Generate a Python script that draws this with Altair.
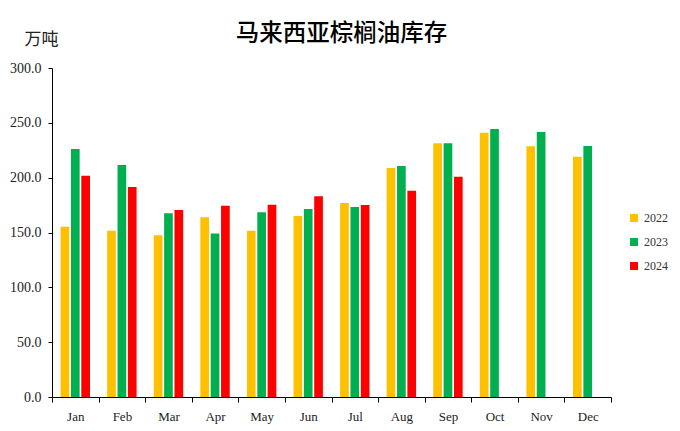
import altair as alt
import pandas as pd

months = ["Jan", "Feb", "Mar", "Apr", "May", "Jun", "Jul", "Aug", "Sep", "Oct", "Nov", "Dec"]
years = ["2022", "2023", "2024"]
v2022 = [155.3, 151.7, 147.5, 163.8, 151.7, 165.0, 177.0, 208.8, 231.3, 241.0, 228.6, 219.1]
v2023 = [226.1, 211.5, 167.5, 149.2, 168.4, 171.4, 173.2, 210.6, 231.3, 244.4, 241.6, 228.9]
v2024 = [201.8, 191.5, 170.5, 174.5, 175.4, 183.0, 175.0, 188.0, 200.9, None, None, None]
colors = ["#FFC000", "#00B050", "#FF0000"]
y_ticks = [0, 50, 100, 150, 200, 250, 300]

rows = []
for yr, vals in zip(years, [v2022, v2023, v2024]):
    for m, v in zip(months, vals):
        if v is not None:
            rows.append({"month": m, "year": yr, "value": v})
df = pd.DataFrame(rows)

serif = "Liberation Serif"
cjk = "Noto Sans CJK SC"

chart = alt.Chart(df).mark_bar().encode(
    x=alt.X("month:N", sort=months,
            scale=alt.Scale(paddingInner=0, paddingOuter=0),
            axis=alt.Axis(title=None, labelAngle=0, tickBand="extent", tickSize=5,
                          labelFont=serif, labelFontSize=13, labelColor="#222",
                          domainColor="#000", tickColor="#000", labelPadding=8,
                          grid=False)),
    xOffset=alt.XOffset("year:N", sort=years,
                        scale=alt.Scale(paddingInner=0.16, paddingOuter=0.83)),
    y=alt.Y("value:Q", scale=alt.Scale(domain=[0, 300], nice=False),
            axis=alt.Axis(values=y_ticks, format=".1f", title="万吨", titleAngle=0,
                          titleX=-11, titleY=-24, titleAlign="center",
                          titleBaseline="alphabetic", titleFont=cjk, titleFontSize=17,
                          titleFontWeight="normal", titleColor="#222",
                          grid=False, tickSize=4, labelPadding=7,
                          labelFont=serif, labelFontSize=14, labelColor="#222",
                          domainColor="#000", tickColor="#000")),
    color=alt.Color("year:N", scale=alt.Scale(domain=years, range=colors),
                    legend=alt.Legend(title=None, orient="none", legendX=576, legendY=144,
                                      symbolType="square", symbolSize=64,
                                      symbolStrokeWidth=0, labelFont=serif,
                                      labelFontSize=12, labelColor="#333",
                                      rowPadding=12, padding=0)),
).properties(
    width=559, height=329,
    title=alt.Title("马来西亚棕榈油库存", font=cjk, fontSize=23.5, fontWeight=500,
                    color="#000", anchor="middle", frame="group", dx=10, offset=-34,
                    baseline="alphabetic"),
    autosize="none",
    padding={"left": 44, "top": 60, "right": 60, "bottom": 32},
).configure_view(stroke=None)

chart.save("out.html", embed_options={"renderer": "svg", "actions": False})
